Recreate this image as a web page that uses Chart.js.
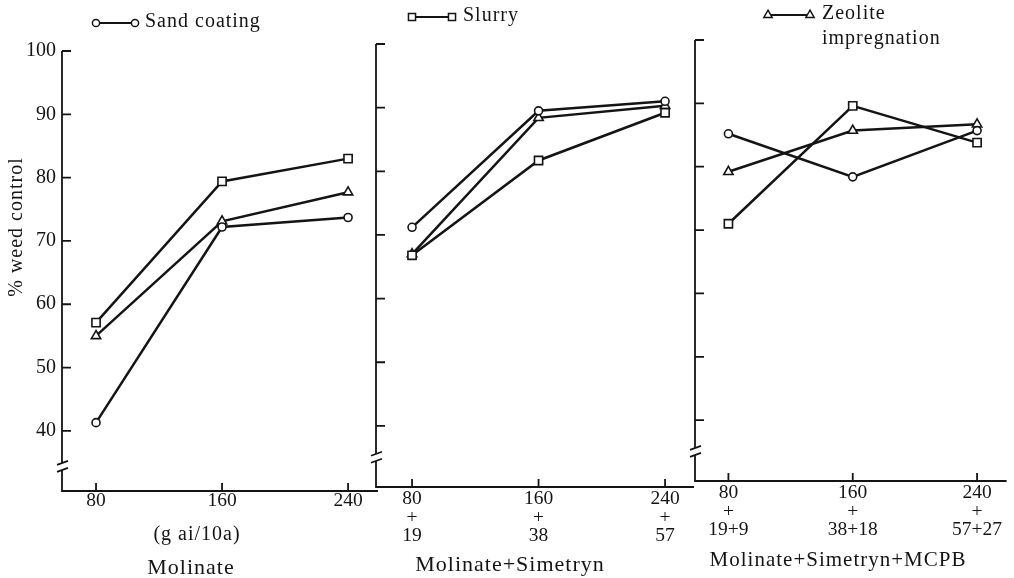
<!DOCTYPE html>
<html><head><meta charset="utf-8">
<script src="https://cdn.jsdelivr.net/npm/chart.js@4.4.1/dist/chart.umd.min.js"></script>
<style>
html,body{margin:0;padding:0;background:#fff;}
#wrap{position:relative;width:1014px;height:578px;overflow:hidden;background:#fff;}
.pn{position:absolute;left:0;top:0;width:1014px;height:578px;}
</style></head><body>
<div id="wrap">
<div class="pn"><canvas id="c1"></canvas></div>
<div class="pn"><canvas id="c2"></canvas></div>
<div class="pn"><canvas id="c3"></canvas></div>
</div>
<script>
// ═══ DATA ═══
var doses=[80,160,240];
var yTicks=[40,50,60,70,80,90,100];
// Molinate
var sandMol=[41.3,72.2,73.7];
var slurryMol=[57.1,79.4,83.0];
var zeoMol=[55.0,73.1,77.7];
// Molinate+Simetryn
var sandMS=[71.2,89.5,91.0];
var slurryMS=[66.8,81.7,89.2];
var zeoMS=[67.0,88.4,90.3];
// Molinate+Simetryn+MCPB
var sandMSM=[85.2,78.4,85.7];
var slurryMSM=[71.0,89.6,83.8];
var zeoMSM=[79.2,85.7,86.7];
var xLabMol=['80','160','240'];
var xLabMS=[['80','+','19'],['160','+','38'],['240','+','57']];
var xLabMSM=[['80','+','19+9'],['160','+','38+18'],['240','+','57+27']];

var SERIF='"Liberation Serif","Times New Roman",serif';
var INK='#141414';
var W=1014,H=578;

function txt(ctx,s,x,y,size,align,sp){
  ctx.save();ctx.font=size+'px '+SERIF;ctx.fillStyle=INK;ctx.textAlign=align||'center';ctx.textBaseline='middle';
  if('letterSpacing' in ctx)ctx.letterSpacing=(sp||0)+'px';
  ctx.fillText(s,x,y);ctx.restore();
}
function mark(ctx,style,x,y){
  ctx.save();ctx.fillStyle='#fff';ctx.strokeStyle=INK;ctx.lineWidth=1.5;
  Chart.helpers.drawPoint(ctx,{pointStyle:style,radius:style==='rect'?5:(style==='triangle'?4.8:3.6),rotation:0,borderWidth:1.5},x,y);
  ctx.restore();
}

// axes, inward ticks, break marks, legend key and captions
var deco={id:'deco',afterDraw:function(ch,args,o){
  var ctx=ch.ctx,a=ch.chartArea,xs=ch.scales.x,ys=ch.scales.y;
  var by=ys.getPixelForValue(o.breakAt);
  ctx.save();ctx.strokeStyle=INK;ctx.lineWidth=1.8;ctx.beginPath();
  ctx.moveTo(a.left,a.top);ctx.lineTo(a.left,by-4);
  ctx.moveTo(a.left,by+3);ctx.lineTo(a.left,a.bottom);ctx.lineTo(a.right,a.bottom);
  yTicks.forEach(function(v){var p=ys.getPixelForValue(v);ctx.moveTo(a.left,p);ctx.lineTo(a.left+9,p);});
  doses.forEach(function(v){var p=xs.getPixelForValue(v);ctx.moveTo(p,a.bottom);ctx.lineTo(p,a.bottom-8);});
  ctx.moveTo(a.left-5,by-2);ctx.lineTo(a.left+6,by-6);
  ctx.moveTo(a.left-5,by+5);ctx.lineTo(a.left+6,by+1);
  ctx.stroke();
  var k=o.key;
  ctx.lineWidth=2.2;ctx.beginPath();ctx.moveTo(k.x1,k.y);ctx.lineTo(k.x2,k.y);ctx.stroke();
  ctx.restore();
  mark(ctx,k.style,k.x1,k.y);mark(ctx,k.style,k.x2,k.y);
  k.lines.forEach(function(s,i){txt(ctx,s,k.tx,k.ty+i*25,20,'left',1);});
  (o.texts||[]).forEach(function(t){txt(ctx,t[0],t[1],t[2],t[3],'center',t[4]);});
  if(o.yTitle){
    ctx.save();ctx.translate(o.yTitle[1],o.yTitle[2]);ctx.rotate(-Math.PI/2);
    txt(ctx,o.yTitle[0],0,0,20,'center',1);ctx.restore();
  }
}};

function ds(vals,style,lbl){
  return{label:lbl,data:vals.map(function(v,i){return{x:doses[i],y:v};}),
    pointStyle:style,borderColor:INK,borderWidth:2.5,
    pointRadius:style==='rect'?5.8:(style==='triangle'?5.4:4),
    pointBackgroundColor:'#fff',pointBorderColor:INK,pointBorderWidth:1.6,tension:0,clip:false};
}

function panel(id,p){
  return new Chart(document.getElementById(id),{type:'line',
    data:{datasets:[ds(p.sand,'circle','Sand coating'),ds(p.slurry,'rect','Slurry'),ds(p.zeo,'triangle','Zeolite impregnation')]},
    options:{responsive:true,maintainAspectRatio:false,animation:false,
      layout:{padding:{left:0,top:p.top,right:W-p.right,bottom:0}},
      plugins:{legend:{display:false},tooltip:{enabled:false},deco:p.deco},
      scales:{
        x:{type:'linear',min:p.xmin,max:p.xmax,grid:{display:false},border:{display:false},
          afterBuildTicks:function(s){s.ticks=doses.map(function(v){return{value:v};});},
          afterFit:function(s){s.height=H-p.bottom;},
          ticks:{autoSkip:false,maxRotation:0,padding:p.xpad,color:INK,font:{family:SERIF,size:19.5,lineHeight:0.95},
            callback:function(v,i){return p.xlab[i];}}},
        y:{type:'linear',min:p.ymin,max:100,grid:{display:false},border:{display:false},
          afterBuildTicks:function(s){s.ticks=yTicks.map(function(v){return{value:v};});},
          afterFit:function(s){s.width=p.left;},
          ticks:{display:p.ylab,padding:-2,color:INK,font:{family:SERIF,size:20}}}
      }
    },plugins:[deco]});
}

panel('c1',{left:62,top:51,bottom:491,right:378,xmin:58.4,xmax:259,ymin:30.5,xpad:-7,ylab:true,
  sand:sandMol,slurry:slurryMol,zeo:zeoMol,xlab:xLabMol,
  deco:{breakAt:34.3,key:{style:'circle',x1:96,x2:135,y:23,tx:145,ty:22,lines:['Sand coating']},
    texts:[['(g ai/10a)',197,535,20,1],['Molinate',191,568,22,1]],yTitle:['% weed control',17,227]}});
panel('c2',{left:376,top:44,bottom:487,right:694,xmin:57.2,xmax:258.3,ymin:30.4,xpad:-5,ylab:false,
  sand:sandMS,slurry:slurryMS,zeo:zeoMS,xlab:xLabMS,
  deco:{breakAt:35,key:{style:'rect',x1:412,x2:452,y:17,tx:463,ty:16,lines:['Slurry']},
    texts:[['Molinate+Simetryn',510,565,22,1]]}});
panel('c3',{left:695,top:40,bottom:481,right:1012,xmin:58.5,xmax:259,ymin:30.4,xpad:-5,ylab:false,
  sand:sandMSM,slurry:slurryMSM,zeo:zeoMSM,xlab:xLabMSM,
  deco:{breakAt:35,key:{style:'triangle',x1:768,x2:810,y:15,tx:822,ty:14,lines:['Zeolite','impregnation']},
    texts:[['Molinate+Simetryn+MCPB',838,560,21,1]]}});
</script>
</body></html>
